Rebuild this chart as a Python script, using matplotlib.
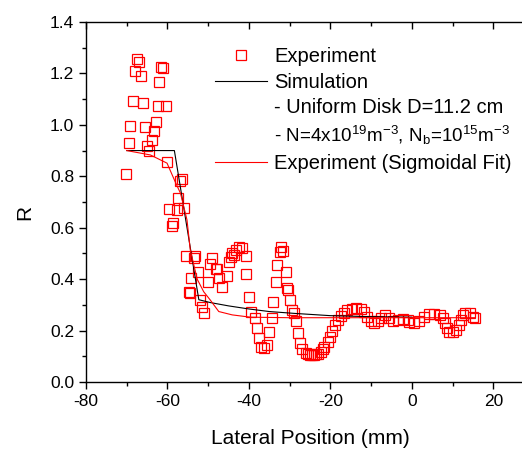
import matplotlib
matplotlib.use("Agg")
import matplotlib.pyplot as plt
from matplotlib.lines import Line2D
from matplotlib.ticker import MultipleLocator, FormatStrFormatter

plt.rcParams['font.family'] = ['Liberation Sans', 'DejaVu Sans']
plt.rcParams['mathtext.fontset'] = 'custom'
plt.rcParams['mathtext.rm'] = 'Liberation Sans'
plt.rcParams['mathtext.it'] = 'Liberation Sans:italic'
plt.rcParams['mathtext.default'] = 'regular'
plt.rcParams['axes.unicode_minus'] = False

# Experiment data
exp_x = [-70.1, -69.5, -69.1, -68.5, -68.0, -67.5, -66.9, -66.5, -66.1, -65.5,
         -65.0, -64.5, -63.9, -63.4, -62.9, -62.4, -62.1, -61.5, -61.1, -60.4,
         -60.0, -59.5, -59.0, -58.6, -57.7, -57.5, -57.0, -56.4, -55.9, -55.5,
         -54.8, -54.5, -54.1, -53.6, -53.2, -52.5, -51.9, -51.4, -51.1, -50.0,
         -49.5, -49.0, -48.2, -47.8, -47.4, -46.6, -45.3, -45.0, -44.5, -44.1,
         -43.7, -43.2, -42.5, -41.7, -40.8, -40.6, -40.0, -39.6, -38.4, -38.0,
         -37.6, -37.1, -36.3, -35.5, -35.1, -34.3, -34.0, -33.4, -33.0, -32.4,
         -32.0, -31.6, -31.0, -30.6, -30.4, -29.8, -29.3, -28.9, -28.5, -27.9,
         -27.5, -26.9, -26.1, -25.5, -25.0, -24.5, -24.0, -23.5, -23.0, -22.4,
         -21.9, -21.5, -20.7, -20.1, -19.5, -18.8, -18.1, -17.4, -16.6, -15.8,
         -14.8, -13.7, -12.5, -11.7, -10.9, -10.0, -9.2, -8.4, -7.6, -6.6,
         -5.5, -4.7, -3.5, -2.2, -1.0, -0.6, 0.6, 1.8, 3.1, 4.3,
         5.5, 6.8, 7.6, 8.2, 8.7, 9.2, 10.1, 10.9, 11.5, 12.1,
         12.5, 13.1, 14.2, 15.0, 15.4]
exp_y = [0.809, 0.929, 0.997, 1.091, 1.211, 1.256, 1.246, 1.191, 1.084, 0.991,
         0.918, 0.899, 0.942, 0.977, 1.013, 1.074, 1.168, 1.224, 1.221, 1.074,
         0.855, 0.672, 0.607, 0.620, 0.667, 0.715, 0.782, 0.790, 0.676, 0.490,
         0.351, 0.345, 0.406, 0.481, 0.490, 0.429, 0.319, 0.291, 0.267, 0.390,
         0.459, 0.484, 0.438, 0.440, 0.403, 0.371, 0.412, 0.468, 0.488, 0.501,
         0.494, 0.515, 0.526, 0.520, 0.490, 0.419, 0.332, 0.274, 0.248, 0.209,
         0.170, 0.137, 0.131, 0.144, 0.196, 0.248, 0.312, 0.390, 0.455, 0.507,
         0.526, 0.510, 0.429, 0.365, 0.358, 0.319, 0.280, 0.270, 0.237, 0.192,
         0.153, 0.127, 0.112, 0.108, 0.105, 0.104, 0.105, 0.107, 0.109, 0.118,
         0.128, 0.137, 0.157, 0.176, 0.200, 0.222, 0.241, 0.257, 0.270, 0.280,
         0.284, 0.287, 0.284, 0.274, 0.254, 0.237, 0.228, 0.237, 0.248, 0.261,
         0.248, 0.237, 0.240, 0.244, 0.241, 0.235, 0.228, 0.239, 0.254, 0.265,
         0.265, 0.261, 0.248, 0.228, 0.209, 0.196, 0.193, 0.202, 0.222, 0.241,
         0.261, 0.267, 0.270, 0.254, 0.248]

# Simulation curve
sim_x = [-70.0, -58.3, -52.3, -49.5, -45.0, -40.0, -35.0, -29.0, -20.0, -10.0, 0.0]
sim_y = [0.900, 0.900, 0.320, 0.309, 0.296, 0.284, 0.274, 0.267, 0.258, 0.254, 0.252]

# Sigmoidal fit of experiment
fit_x = [-70.0, -64.2, -60.1, -58.0, -56.8, -55.2, -54.4, -52.7, -51.1, -49.5,
         -47.4, -44.1, -39.6, -30.0, -20.0, 0.0, 15.4]
fit_y = [0.900, 0.883, 0.851, 0.775, 0.734, 0.630, 0.514, 0.400, 0.351, 0.319,
         0.274, 0.261, 0.252, 0.250, 0.250, 0.250, 0.250]

W, H = 522, 449
fig = plt.figure(figsize=(W / 100, H / 100), dpi=100)
ax = fig.add_axes([86 / W, (H - 382) / H, (534 - 86) / W, 360 / H])

ax.plot(sim_x, sim_y, color='black', lw=0.8, zorder=3)
ax.plot(fit_x, fit_y, color='red', lw=0.8, zorder=3)
ax.plot(exp_x, exp_y, linestyle='none', marker='s', markersize=7.2,
        markerfacecolor='none', markeredgecolor='red', markeredgewidth=0.9, zorder=2)

ax.set_xlim(-80, 30)
ax.set_ylim(0, 1.4)
ax.xaxis.set_major_locator(MultipleLocator(20))
ax.xaxis.set_minor_locator(MultipleLocator(10))
ax.yaxis.set_major_locator(MultipleLocator(0.2))
ax.yaxis.set_minor_locator(MultipleLocator(0.1))
ax.yaxis.set_major_formatter(FormatStrFormatter('%.1f'))
ax.tick_params(which='major', direction='out', length=5, width=1, labelsize=12.5)
ax.tick_params(which='minor', direction='out', length=3, width=1)
for s in ['left', 'bottom']:
    ax.spines[s].set_linewidth(1.0)
ax.spines['right'].set_visible(False)
ax.spines['top'].set_visible(False)

sec = ax.secondary_xaxis('top')
sec.xaxis.set_major_locator(MultipleLocator(20))
sec.xaxis.set_minor_locator(MultipleLocator(10))
sec.tick_params(which='major', direction='in', length=5, width=1, labeltop=False)
sec.tick_params(which='minor', direction='in', length=3, width=1)
sec.spines['top'].set_linewidth(1.0)

ax.set_xlabel('Lateral Position (mm)', fontsize=15)
ax.set_ylabel('R', fontsize=15)
ax.xaxis.set_label_coords((310 - 86) / 448, -(439 - 382) / 360, transform=ax.transAxes)
ax.yaxis.set_label_coords(-(86 - 25) / 448, (382 - 212) / 360, transform=ax.transAxes)
ax.xaxis.label.set_va('center')
ax.yaxis.label.set_va('center')

handles = [
    Line2D([], [], linestyle='none', marker='s', markersize=7.2,
           markerfacecolor='none', markeredgecolor='red', markeredgewidth=0.9),
    Line2D([], [], color='black', lw=0.8),
    Line2D([], [], linestyle='none'),
    Line2D([], [], linestyle='none'),
    Line2D([], [], color='red', lw=0.8),
]
labels = [
    'Experiment',
    'Simulation',
    '- Uniform Disk D=11.2 cm',
    '- N=4x10$^{19}$m$^{-3}$, N$_{b}$=10$^{15}$m$^{-3}$',
    'Experiment (Sigmoidal Fit)',
]
leg = ax.legend(handles, labels, loc='upper left', frameon=False,
                bbox_to_anchor=(215 / W, 1 - 47 / H), bbox_transform=fig.transFigure,
                borderaxespad=0, borderpad=0, fontsize=14.5,
                handlelength=2.57, handletextpad=0.36, labelspacing=0.33)
leg.get_texts()[3].set_fontsize(13.6)

fig.savefig('out.png', dpi=100)
